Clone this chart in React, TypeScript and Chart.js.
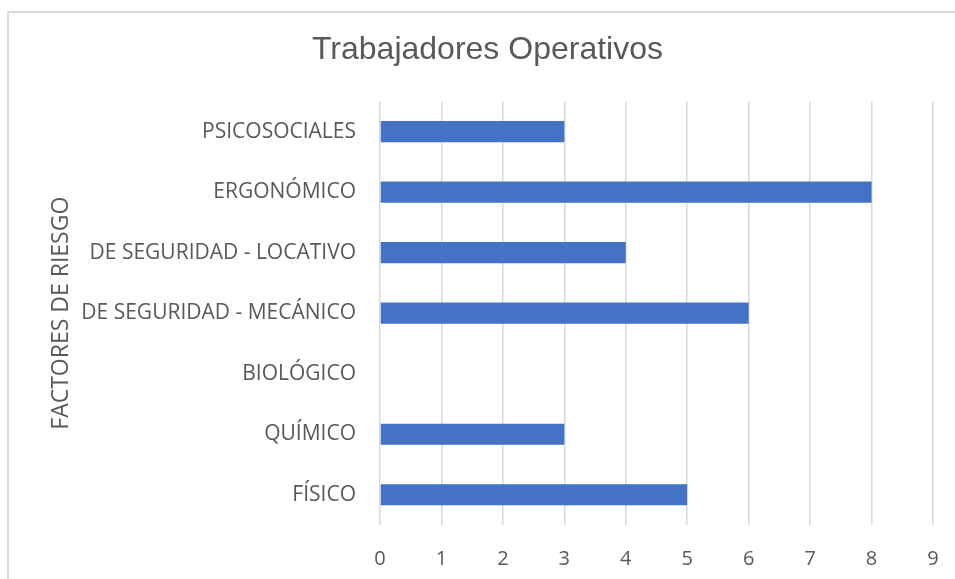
import React, { useEffect, useRef } from "react";
import { Chart, registerables } from "chart.js";

Chart.register(...registerables);

const categories = [
  "PSICOSOCIALES",
  "ERGONÓMICO",
  "DE SEGURIDAD - LOCATIVO",
  "DE SEGURIDAD - MECÁNICO",
  "BIOLÓGICO",
  "QUÍMICO",
  "FÍSICO",
];
const values = [3, 8, 4, 6, 0, 3, 5];
const xMin = 0;
const xMax = 9;
const chartTitle = "Trabajadores Operativos";
const yAxisTitle = "FACTORES DE RIESGO";

const FONT = "'Open Sans', sans-serif";
const TITLE_FONT = "'Liberation Sans', Arial, sans-serif";
const TEXT = "#595959";

export default function App() {
  const ref = useRef<HTMLCanvasElement | null>(null);

  useEffect(() => {
    if (!ref.current) return;
    const chart = new Chart(ref.current, {
      type: "bar",
      data: {
        labels: categories,
        datasets: [
          {
            label: "Trabajadores",
            data: values,
            backgroundColor: "#4472C4",
            borderWidth: 0,
            categoryPercentage: 1,
            barPercentage: 0.35,
          },
        ],
      },
      options: {
        indexAxis: "y",
        responsive: false,
        animation: false,
        layout: { padding: { left: 42, right: 22, top: 0, bottom: 0 } },
        plugins: {
          legend: { display: false },
          tooltip: { enabled: false },
          title: {
            display: true,
            text: chartTitle,
            color: TEXT,
            font: { family: TITLE_FONT, size: 32, weight: "normal", lineHeight: 1.2 },
            padding: { top: 31, bottom: 32 },
          },
        },
        scales: {
          x: {
            min: xMin,
            max: xMax,
            ticks: {
              stepSize: 1,
              color: TEXT,
              font: { family: FONT, size: 20 },
              padding: 22,
            },
            grid: { color: "#d9d9d9", lineWidth: 1.5, drawTicks: false },
            border: { display: false },
            afterFit: (scale: any) => {
              scale.height = 54;
              scale.paddingLeft = 0;
              scale.paddingRight = 0;
            },
          },
          y: {
            ticks: {
              color: TEXT,
              font: { family: FONT, size: 21 },
              padding: 24,
            },
            grid: { display: false, drawTicks: false },
            border: { display: false },
            title: {
              display: true,
              text: yAxisTitle,
              color: TEXT,
              font: { family: FONT, size: 23, lineHeight: 1.2 },
              padding: { top: 6, bottom: 0 },
            },
            afterFit: (scale: any) => {
              scale.width = 338;
            },
          },
        },
      },
    });
    return () => chart.destroy();
  }, []);

  return (
    <div style={{ position: "fixed", left: 0, top: 0, width: 955, height: 579, overflow: "hidden", background: "#fff" }}>
      <div
        style={{
          position: "absolute",
          left: 7,
          top: 11,
          width: 1200,
          height: 1200,
          borderLeft: "2px solid #d9d9d9",
          borderTop: "2px solid #d9d9d9",
        }}
      />
      <canvas ref={ref} width={955} height={579} style={{ position: "absolute", left: 0, top: 0 }} />
    </div>
  );
}
